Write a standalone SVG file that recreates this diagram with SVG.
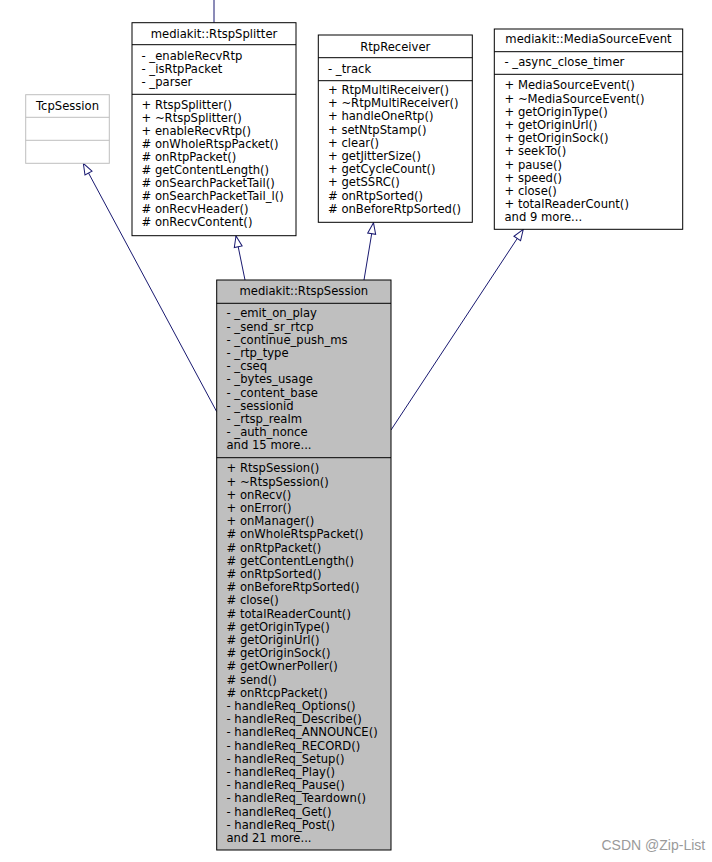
<svg xmlns="http://www.w3.org/2000/svg" width="712" height="862" viewBox="0 0 712 862">
<style>
  .box { fill: #ffffff; stroke: #000000; stroke-width: 1; }
  .sess { fill: #bfbfbf; stroke: #000000; stroke-width: 1; }
  .grey { fill: #ffffff; stroke: #bfbfbf; stroke-width: 1; }
  .sep { stroke: #000000; stroke-width: 1; }
  .sepg { stroke: #bfbfbf; stroke-width: 1; }
  text { font-family: "DejaVu Sans", "Noto Sans", sans-serif; font-size: 11.6px; fill: #000000; }
  .c { text-anchor: middle; }
  .edge { stroke: #191970; stroke-width: 1; fill: none; }
  .wm { font-family: "Liberation Sans", Arial, sans-serif; font-size: 14px; fill: #9a9a9a; }
</style>
<defs>
  <marker id="inh" viewBox="-12 -5 13 10" markerWidth="13" markerHeight="10" refX="0" refY="0" orient="auto" markerUnits="userSpaceOnUse">
    <path d="M0,0 L-11,-4 L-11,4 Z" fill="#ffffff" stroke="#191970" stroke-width="1"/>
  </marker>
</defs>

<g id="connectors">
  <line class="edge" x1="214" y1="0" x2="214" y2="22.7"/>
  <line class="edge" x1="216.7" y1="411.7" x2="83.3" y2="163.3" marker-end="url(#inh)"/>
  <line class="edge" x1="245" y1="280" x2="236" y2="236" marker-end="url(#inh)"/>
  <line class="edge" x1="364" y1="280" x2="373.5" y2="222.8" marker-end="url(#inh)"/>
  <line class="edge" x1="391" y1="430" x2="523.3" y2="229.3" marker-end="url(#inh)"/>
</g>

<g id="TcpSession">
  <rect class="grey" x="25.7" y="94.7" width="83.6" height="68.6"/>
  <line class="sepg" x1="25.7" y1="117.3" x2="109.3" y2="117.3"/>
  <line class="sepg" x1="25.7" y1="140.3" x2="109.3" y2="140.3"/>
  <text class="c" x="67.5" y="109.5">TcpSession</text>
</g>

<g id="RtspSplitter">
  <rect class="box" x="132" y="22.7" width="164" height="213"/>
  <line class="sep" x1="132" y1="44.7" x2="296" y2="44.7"/>
  <line class="sep" x1="132" y1="94.3" x2="296" y2="94.3"/>
  <text class="c" x="214" y="37.5">mediakit::RtspSplitter</text>
  <text x="141.5" y="60">- _enableRecvRtp</text>
  <text x="141.5" y="73.2">- _isRtpPacket</text>
  <text x="141.5" y="86.4">- _parser</text>
  <text x="141.5" y="109.3">+ RtspSplitter()</text>
  <text x="141.5" y="122.3">+ ~RtspSplitter()</text>
  <text x="141.5" y="135.3">+ enableRecvRtp()</text>
  <text x="141.5" y="148.3"># onWholeRtspPacket()</text>
  <text x="141.5" y="161.3"># onRtpPacket()</text>
  <text x="141.5" y="174.3"># getContentLength()</text>
  <text x="141.5" y="187.3"># onSearchPacketTail()</text>
  <text x="141.5" y="200.3"># onSearchPacketTail_l()</text>
  <text x="141.5" y="213.3"># onRecvHeader()</text>
  <text x="141.5" y="226.3"># onRecvContent()</text>
</g>

<g id="RtpReceiver">
  <rect class="box" x="318.3" y="35" width="154" height="187.3"/>
  <line class="sep" x1="318.3" y1="57.7" x2="472.3" y2="57.7"/>
  <line class="sep" x1="318.3" y1="80.7" x2="472.3" y2="80.7"/>
  <text class="c" x="395.3" y="50.7">RtpReceiver</text>
  <text x="328" y="73.3">- _track</text>
  <text x="328" y="94">+ RtpMultiReceiver()</text>
  <text x="328" y="107.2">+ ~RtpMultiReceiver()</text>
  <text x="328" y="120.4">+ handleOneRtp()</text>
  <text x="328" y="133.6">+ setNtpStamp()</text>
  <text x="328" y="146.8">+ clear()</text>
  <text x="328" y="160">+ getJitterSize()</text>
  <text x="328" y="173.2">+ getCycleCount()</text>
  <text x="328" y="186.4">+ getSSRC()</text>
  <text x="328" y="199.6"># onRtpSorted()</text>
  <text x="328" y="212.8"># onBeforeRtpSorted()</text>
</g>

<g id="MediaSourceEvent">
  <rect class="box" x="494.3" y="29" width="188.4" height="200.3"/>
  <line class="sep" x1="494.3" y1="51.7" x2="682.7" y2="51.7"/>
  <line class="sep" x1="494.3" y1="74.3" x2="682.7" y2="74.3"/>
  <text class="c" x="588.5" y="43.3">mediakit::MediaSourceEvent</text>
  <text x="504.5" y="66.3">- _async_close_timer</text>
  <text x="504.5" y="89.3">+ MediaSourceEvent()</text>
  <text x="504.5" y="102.5">+ ~MediaSourceEvent()</text>
  <text x="504.5" y="115.7">+ getOriginType()</text>
  <text x="504.5" y="128.9">+ getOriginUrl()</text>
  <text x="504.5" y="142.1">+ getOriginSock()</text>
  <text x="504.5" y="155.3">+ seekTo()</text>
  <text x="504.5" y="168.5">+ pause()</text>
  <text x="504.5" y="181.7">+ speed()</text>
  <text x="504.5" y="194.9">+ close()</text>
  <text x="504.5" y="208.1">+ totalReaderCount()</text>
  <text x="504.5" y="221.3">and 9 more...</text>
</g>

<g id="RtspSession">
  <rect class="sess" x="216.7" y="280" width="174.3" height="570"/>
  <line class="sep" x1="216.7" y1="303.3" x2="391" y2="303.3"/>
  <line class="sep" x1="216.7" y1="457.7" x2="391" y2="457.7"/>
  <text class="c" x="303.8" y="295">mediakit::RtspSession</text>
  <text x="226.5" y="317.3">- _emit_on_play</text>
  <text x="226.5" y="330.5">- _send_sr_rtcp</text>
  <text x="226.5" y="343.7">- _continue_push_ms</text>
  <text x="226.5" y="356.9">- _rtp_type</text>
  <text x="226.5" y="370.1">- _cseq</text>
  <text x="226.5" y="383.3">- _bytes_usage</text>
  <text x="226.5" y="396.5">- _content_base</text>
  <text x="226.5" y="409.7">- _sessionid</text>
  <text x="226.5" y="422.9">- _rtsp_realm</text>
  <text x="226.5" y="436.1">- _auth_nonce</text>
  <text x="226.5" y="449.3">and 15 more...</text>
  <text x="226.5" y="472.3">+ RtspSession()</text>
  <text x="226.5" y="485.5">+ ~RtspSession()</text>
  <text x="226.5" y="498.7">+ onRecv()</text>
  <text x="226.5" y="511.9">+ onError()</text>
  <text x="226.5" y="525.1">+ onManager()</text>
  <text x="226.5" y="538.3"># onWholeRtspPacket()</text>
  <text x="226.5" y="551.5"># onRtpPacket()</text>
  <text x="226.5" y="564.7"># getContentLength()</text>
  <text x="226.5" y="577.9"># onRtpSorted()</text>
  <text x="226.5" y="591.1"># onBeforeRtpSorted()</text>
  <text x="226.5" y="604.3"># close()</text>
  <text x="226.5" y="617.5"># totalReaderCount()</text>
  <text x="226.5" y="630.7"># getOriginType()</text>
  <text x="226.5" y="643.9"># getOriginUrl()</text>
  <text x="226.5" y="657.1"># getOriginSock()</text>
  <text x="226.5" y="670.3"># getOwnerPoller()</text>
  <text x="226.5" y="683.5"># send()</text>
  <text x="226.5" y="696.7"># onRtcpPacket()</text>
  <text x="226.5" y="709.9">- handleReq_Options()</text>
  <text x="226.5" y="723.1">- handleReq_Describe()</text>
  <text x="226.5" y="736.3">- handleReq_ANNOUNCE()</text>
  <text x="226.5" y="749.5">- handleReq_RECORD()</text>
  <text x="226.5" y="762.7">- handleReq_Setup()</text>
  <text x="226.5" y="775.9">- handleReq_Play()</text>
  <text x="226.5" y="789.1">- handleReq_Pause()</text>
  <text x="226.5" y="802.3">- handleReq_Teardown()</text>
  <text x="226.5" y="815.5">- handleReq_Get()</text>
  <text x="226.5" y="828.7">- handleReq_Post()</text>
  <text x="226.5" y="841.9">and 21 more...</text>
</g>

<text class="wm" x="601.5" y="850">CSDN @Zip-List</text>
</svg>
